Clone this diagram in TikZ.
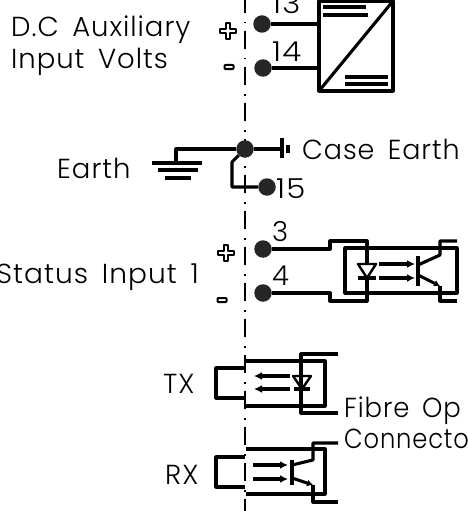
\documentclass[tikz,border=0pt]{standalone}
\usepackage{fontspec}
\setmainfont{Poppins}[UprightFont=* Light,LetterSpace=3.5,WordSpace=1.6]
\usetikzlibrary{arrows.meta}

\tikzset{
    wire/.style={line width=3.1pt, line join=round},
    diode/.style={line width=2.4pt, line join=round},
    terminal/.style={circle, fill=black!85, inner sep=0pt, minimum size=17.5pt},
    label/.style={anchor=base west, inner sep=0pt, font=\fontsize{27.5}{30}\selectfont},
    optic/.style={wire, -{Latex[length=8pt,width=8pt]}},
    signbox/.style={line width=2pt, line join=round, fill=white},
    plusmark/.pic={\draw[signbox] (-2.2,-8) -- (2.2,-8) -- (2.2,-2.2) -- (8,-2.2) -- (8,2.2) -- (2.2,2.2) -- (2.2,8) -- (-2.2,8) -- (-2.2,2.2) -- (-8,2.2) -- (-8,-2.2) -- (-2.2,-2.2) -- cycle;},
    minusmark/.pic={\draw[signbox, rounded corners=0.8pt] (-4.5,-2) rectangle (4.5,2);}
}

\begin{document}
\begin{tikzpicture}[x=1pt,y=-1pt]
        \clip (0,0) rectangle (468,511);
        \draw[line width=1.6pt, dash pattern=on 18pt off 9pt on 1.5pt off 7.5pt, dash phase=5pt] (245,0) -- (245,511);

        \node[label] (auxtext) at (11,37) {D.C Auxiliary};
        \node[label] (inputtext) at (11,69) {Input Volts};
        \node[label] (earthtext) at (57,178) {Earth};
        \node[label, xscale=0.98] (casetext) at (302,159) {Case Earth};
        \node[label, xscale=1.02] (statustext) at (-4,283) {Status Input 1};
        \node[label] (txtext) at (163,393) {TX};
        \node[label] (rxtext) at (165,484) {RX};
        \node[label, xscale=0.94] (fibretext) at (344,417) {Fibre Op};
        \node[label, xscale=0.88] (conntext) at (344,448) {Connecto};
        \node[label, xscale=1.12] (n13) at (272,14) {13};
        \node[label, xscale=1.12] (n14) at (272,62) {14};
        \node[label, xscale=1.12] (n15) at (276,198) {15};
        \node[label] (n3) at (272,241) {3};
        \node[label] (n4) at (272,285) {4};

        \pic at (228,31) {plusmark};
        \pic at (229,67) {minusmark};
        \pic at (226,253) {plusmark};
        \pic at (222,300) {minusmark};

        \node[terminal] (t13) at (262,24) {};
        \node[terminal] (t14) at (263,68) {};
        \node[terminal] (tearth) at (245,149) {};
        \node[terminal] (t15) at (267,187) {};
        \node[terminal] (t3) at (263,249) {};
        \node[terminal] (t4) at (263,293) {};

        \draw[wire] (319,1) rectangle (393,91);
        \draw[wire] (319,91) -- (393,1);
        \draw[wire] (323,7) -- (366,7);
        \draw[wire] (323,15) -- (368,15);
        \draw[wire] (345,77) -- (388,77);
        \draw[wire] (345,84) -- (388,84);
        \draw[wire] (t13) -- (319,24);
        \draw[wire] (t14) -- (319,68);

        \draw[wire] (tearth) -- (176,149) -- (176,163);
        \draw[wire] (152,163) -- (202,163);
        \draw[wire] (158,170) -- (198,170);
        \draw[wire] (165,178) -- (191,178);
        \draw[wire] (tearth) -- (282,149);
        \draw[wire] (282,138) -- (282,158);
        \draw[line width=3.5pt] (288,145) -- (288,153);
        \draw[wire] (tearth) -- (232,162) -- (232,187) -- (t15);

        \draw[wire] (345,248) rectangle (457,293);
        \draw[wire] (t3) -- (330,249) -- (330,241) -- (367,241) -- (367,264);
        \draw[wire] (t4) -- (330,293) -- (330,301) -- (367,301) -- (367,278);
        \draw[diode] (358,264) -- (376,264) -- (367,278) -- cycle;
        \draw[wire] (358,278) -- (376,278);
        \draw[optic] (379,264) -- (415,264);
        \draw[optic] (379,278) -- (415,278);
        \draw[line width=3.5pt] (418,256) -- (418,286);
        \draw[wire] (457,241) -- (440,241) -- (440,255) -- (418,265);
        \draw[wire, -{Latex[length=6pt,width=7pt]}] (418,275) -- (440,286);
        \draw[wire] (440,286) -- (440,301) -- (457,301);

        \draw[wire] (245,368) -- (216,368) -- (216,398) -- (245,398);
        \draw[wire] (246,361) -- (325,361) -- (325,406) -- (246,406);
        \draw[wire] (338,354) -- (301,354) -- (301,413) -- (338,413);
        \draw[diode] (293,376) -- (311,376) -- (302,389) -- cycle;
        \draw[wire] (294,389) -- (310,389);
        \draw[optic] (290,376) -- (254,376);
        \draw[optic] (290,389) -- (254,389);

        \draw[wire] (245,457) -- (216,457) -- (216,487) -- (245,487);
        \draw[wire] (246,449) -- (325,449) -- (325,494) -- (246,494);
        \draw[wire] (338,443) -- (313,443) -- (313,460) -- (292,465);
        \draw[line width=3.5pt] (292,460) -- (292,485);
        \draw[wire, -{Latex[length=6pt,width=7pt]}] (292,478) -- (313,485);
        \draw[wire] (313,485) -- (313,502) -- (338,502);
        \draw[optic] (253,465) -- (288,465);
        \draw[optic] (253,479) -- (288,479);
    \end{tikzpicture}
\end{document}
